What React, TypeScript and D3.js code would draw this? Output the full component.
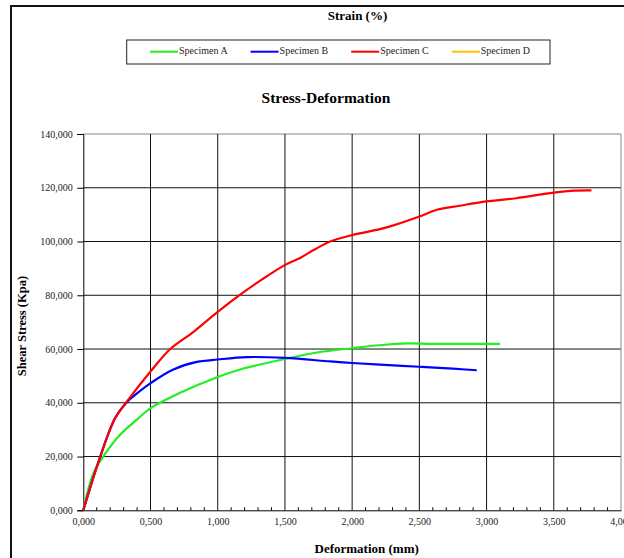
import * as d3 from 'd3';
import { useEffect, useRef } from 'react';

// deformation (mm) / shear stress
const specimenA: [number, number][] = [
  [0, 0], [0.077, 14000], [0.176, 22000], [0.275, 28200], [0.4, 33800], [0.503, 38100],
  [0.72, 43700], [1.0, 49600], [1.167, 52400], [1.5, 56300], [1.75, 58800], [2.0, 60300],
  [2.2, 61400], [2.407, 62100], [2.6, 61900], [2.85, 61900], [3.1, 61900],
];
const specimenB: [number, number][] = [
  [0, 0], [0.126, 20000], [0.238, 34400], [0.325, 40300], [0.4, 43500], [0.503, 47400],
  [0.67, 52400], [0.845, 55200], [1.0, 56100], [1.217, 57000], [1.5, 56700], [1.836, 55400],
  [2.0, 54800], [2.208, 54200], [2.5, 53400], [2.75, 52700], [2.927, 52100],
];
const specimenC: [number, number][] = [
  [0, 0], [0.126, 20000], [0.238, 34400], [0.325, 40500], [0.503, 51800], [0.647, 60000],
  [0.82, 66400], [1.0, 73800], [1.167, 80200], [1.33, 85900], [1.502, 91300], [1.613, 93900],
  [1.72, 97000], [1.836, 100000], [2.0, 102400], [2.208, 104600], [2.307, 106000], [2.5, 109300],
  [2.63, 111800], [2.8, 113300], [3.0, 114900], [3.22, 116100], [3.5, 118200], [3.65, 118900],
  [3.78, 119000],
];
const specimenD: [number, number][] = [];

const seriesNames = ['Specimen A', 'Specimen B', 'Specimen C', 'Specimen D'];
const seriesColors = ['#22ee22', '#0000ff', '#ff0000', '#ffc000'];
const xTicks = [0, 0.5, 1, 1.5, 2, 2.5, 3, 3.5, 4];
const yTicks = [0, 20000, 40000, 60000, 80000, 100000, 120000, 140000];

// comma decimal, three places; stress ticks are printed in thousands
const fmt = (v: number) => v.toFixed(3).replace('.', ',');

const App = () => {
  const chartRef = useRef<SVGSVGElement>(null);

  const width = 624;
  const height = 558;
  const margin = { top: 134, left: 83.3, right: 3, bottom: 47.7 };
  const boundsWidth = width - margin.left - margin.right;
  const boundsHeight = height - margin.top - margin.bottom;

  useEffect(() => {
    const svg = d3.select(chartRef.current);
    svg.selectAll('*').remove();
    const font = '"Liberation Serif", "Times New Roman", serif';

    // outer frame
    svg.append('rect')
      .attr('x', 11).attr('y', 6).attr('width', 700).attr('height', 700)
      .attr('fill', 'white').attr('stroke', '#111').attr('stroke-width', 2);

    svg.append('text')
      .attr('x', 357.5).attr('y', 17.5)
      .attr('text-anchor', 'middle').attr('dominant-baseline', 'middle')
      .style('font-family', font).style('font-weight', 'bold').style('font-size', '13px')
      .text('Strain (%)');

    // legend
    const legend = svg.append('g');
    legend.append('rect')
      .attr('x', 126.7).attr('y', 40).attr('width', 423.3).attr('height', 24)
      .attr('fill', 'white').attr('stroke', '#222').attr('stroke-width', 1);
    seriesNames.forEach((name, i) => {
      const lx = 150 + i * 100.6;
      legend.append('line')
        .attr('x1', lx).attr('x2', lx + 28).attr('y1', 51.7).attr('y2', 51.7)
        .attr('stroke', seriesColors[i]).attr('stroke-width', 2);
      legend.append('text')
        .attr('x', lx + 29).attr('y', 52)
        .attr('dominant-baseline', 'middle')
        .style('font-family', font).style('font-size', '10px').attr('fill', '#222')
        .text(name);
    });

    svg.append('text')
      .attr('x', 326).attr('y', 99.5)
      .attr('text-anchor', 'middle').attr('dominant-baseline', 'middle')
      .style('font-family', font).style('font-weight', 'bold').style('font-size', '15.5px')
      .text('Stress-Deformation');

    const scaleX = d3.scaleLinear().domain([0, 4]).range([0, boundsWidth]);
    const scaleY = d3.scaleLinear().domain([0, 140000]).range([boundsHeight, 0]);

    const g = svg.append('g').attr('transform', `translate(${margin.left}, ${margin.top})`);

    // grid
    g.selectAll('.hgrid').data(yTicks.slice(1)).enter().append('line')
      .attr('x1', 0).attr('x2', boundsWidth)
      .attr('y1', d => scaleY(d)).attr('y2', d => scaleY(d))
      .attr('stroke', d => (d === 140000 ? '#888' : '#111')).attr('stroke-width', 1);
    g.selectAll('.vgrid').data(xTicks.slice(1)).enter().append('line')
      .attr('x1', d => scaleX(d)).attr('x2', d => scaleX(d))
      .attr('y1', 0).attr('y2', boundsHeight)
      .attr('stroke', d => (d === 4 ? '#888' : '#111')).attr('stroke-width', 1);

    // axes
    const yAxis = d3.axisLeft(scaleY).tickValues(yTicks).tickSize(6)
      .tickFormat(d => fmt((d as number) / 1000));
    const yG = g.append('g').call(yAxis);
    yG.select('.domain').attr('stroke', '#000');
    yG.selectAll('text').style('font-family', font).style('font-size', '10px').attr('fill', '#222')
      .attr('x', -10.5);

    const xAxis = d3.axisBottom(scaleX).tickValues(xTicks).tickSize(0).tickPadding(8)
      .tickFormat(d => fmt(d as number));
    const xG = g.append('g').attr('transform', `translate(0, ${boundsHeight})`).call(xAxis);
    xG.select('.domain').attr('stroke', '#000');
    xG.selectAll('text').style('font-family', font).style('font-size', '10px').attr('fill', '#222');

    // minor ticks, 0.1 mm, pointing inward
    const minor = d3.range(1, 40).map(i => i / 10).filter(v => Math.round(v * 10) % 5 !== 0);
    g.selectAll('.minor').data(minor).enter().append('line')
      .attr('x1', d => scaleX(d)).attr('x2', d => scaleX(d))
      .attr('y1', boundsHeight - 3).attr('y2', boundsHeight)
      .attr('stroke', '#000').attr('stroke-width', 1);

    // curves (smoothed like the spreadsheet)
    const line = d3.line<[number, number]>()
      .x(d => scaleX(d[0]))
      .y(d => scaleY(d[1]))
      .curve(d3.curveCatmullRom.alpha(0.5));

    [specimenA, specimenB, specimenC, specimenD].forEach((data, i) => {
      if (data.length === 0) return;
      g.append('path')
        .datum(data)
        .attr('d', line)
        .style('fill', 'none')
        .style('stroke', seriesColors[i])
        .style('stroke-width', 2.2)
        .style('stroke-linejoin', 'round');
    });

    // axis titles
    svg.append('text')
      .attr('transform', 'translate(23.3, 326) rotate(-90)')
      .attr('text-anchor', 'middle').attr('dominant-baseline', 'middle')
      .style('font-family', font).style('font-weight', 'bold').style('font-size', '12.5px')
      .text('Shear Stress (Kpa)');

    svg.append('text')
      .attr('x', 366.7).attr('y', 550)
      .attr('text-anchor', 'middle').attr('dominant-baseline', 'middle')
      .style('font-family', font).style('font-weight', 'bold').style('font-size', '13px')
      .text('Deformation (mm)');
  });

  return (
    <svg ref={chartRef} width={width} height={height}
      style={{ position: 'absolute', left: 0, top: 0, background: 'white' }}></svg>
  );
};

export default App;
